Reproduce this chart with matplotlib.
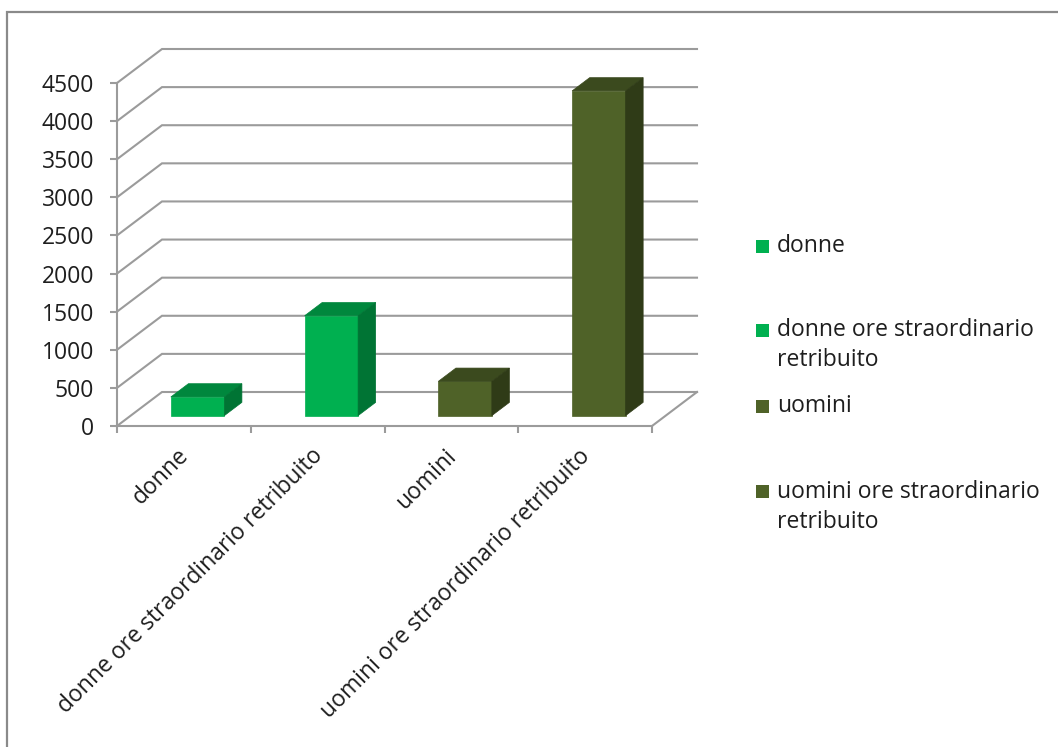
import matplotlib
matplotlib.use("Agg")
import matplotlib.pyplot as plt
from matplotlib.patches import Polygon, Rectangle
from matplotlib.transforms import ScaledTranslation

# ---- data ----
categories = ["donne", "donne ore straordinario retribuito", "uomini",
              "uomini ore straordinario retribuito"]
values = [245, 1310, 450, 4260]
legend_lines = [["donne"], ["donne ore straordinario", "retribuito"],
                ["uomini"], ["uomini ore straordinario", "retribuito"]]
yticks = [0, 500, 1000, 1500, 2000, 2500, 3000, 3500, 4000, 4500]

front_colors = ["#00B050", "#00B050", "#4F6228", "#4F6228"]
top_colors = ["#00873D", "#00873D", "#3B4A1E", "#3B4A1E"]
side_colors = ["#007434", "#007434", "#2F3B17", "#2F3B17"]

W, H = 1058, 747
plt.rcParams['font.family'] = ['Open Sans', 'DejaVu Sans']
FS = 16.5
TXT = "#1E1E1E"
GRID = "#9B9B9B"

fig = plt.figure(figsize=(W / 100, H / 100), dpi=100)
fig.patch.set_facecolor("white")

def fx(x):
    return x / W

def fy(y):
    return 1 - y / H

# axes = front plane of the 3D box
ax = fig.add_axes([fx(117), fy(426), 535 / W, 343 / H])
ax.set_xlim(0, 4)
ax.set_ylim(0, 4500)
ax.patch.set_alpha(0)

# depth offsets (data units)
DX = 45 / 133.75
DY = 34 * 4500 / 343
f0 = 0.305     # bar front plane depth fraction
dep = 0.39     # bar depth fraction
bw = 0.40      # bar width

# gridlines (wall)
for v in yticks:
    ax.plot([0, DX, 4 + DX], [v, v + DY, v + DY], color=GRID, lw=1.5,
            clip_on=False, zorder=1, solid_joinstyle='miter')
# floor right edge
ax.plot([4, 4 + DX], [0, DY], color=GRID, lw=1.5, clip_on=False, zorder=1)

# bars
for i, v in enumerate(values):
    c = i + 0.5
    x0 = c - bw / 2 + f0 * DX
    x1 = c + bw / 2 + f0 * DX
    y0 = f0 * DY
    y1 = y0 + v
    ddx, ddy = dep * DX, dep * DY
    front = Polygon([(x0, y0), (x1, y0), (x1, y1), (x0, y1)], closed=True,
                    facecolor=front_colors[i], edgecolor=front_colors[i],
                    lw=0.5, clip_on=False, zorder=3 + i)
    top = Polygon([(x0, y1), (x1, y1), (x1 + ddx, y1 + ddy), (x0 + ddx, y1 + ddy)],
                  closed=True, facecolor=top_colors[i], edgecolor=top_colors[i],
                  lw=0.5, clip_on=False, zorder=3 + i)
    side = Polygon([(x1, y0), (x1 + ddx, y0 + ddy), (x1 + ddx, y1 + ddy), (x1, y1)],
                   closed=True, facecolor=side_colors[i], edgecolor=side_colors[i],
                   lw=0.5, clip_on=False, zorder=3 + i)
    for p in (front, top, side):
        ax.add_patch(p)

# spines
for s in ("top", "right"):
    ax.spines[s].set_visible(False)
for s in ("left", "bottom"):
    ax.spines[s].set_color(GRID)
    ax.spines[s].set_linewidth(1.5)
    ax.spines[s].set_zorder(2)

# y ticks
ax.set_yticks(yticks)
ax.set_yticklabels([str(t) for t in yticks], fontsize=FS, color=TXT)
ax.tick_params(axis="y", direction="out", length=5, width=1.5, color=GRID, pad=11.5)

# x ticks: boundaries (major) and labels (minor)
ax.set_xticks([0, 1, 2, 3, 4])
ax.set_xticklabels([])
ax.tick_params(axis="x", which="major", direction="out", length=5, width=1.5, color=GRID)
ax.set_xticks([i + 0.5 for i in range(len(categories))], minor=True)
ax.set_xticklabels(categories, minor=True, rotation=45, ha="right", va="top",
                   fontsize=FS, color=TXT)
ax.tick_params(axis="x", which="minor", length=0, pad=13)
off = ScaledTranslation(10 / 100, 0, fig.dpi_scale_trans)
for lbl in ax.get_xticklabels(minor=True):
    lbl.set_transform(lbl.get_transform() + off)

# legend (manual, Excel-like layout)
entry_y = [246.5, 330, 406.5, 491.5]
line_gap = 30
for i, lines in enumerate(legend_lines):
    y = entry_y[i]
    fig.patches.append(Rectangle((fx(756), fy(y + 6.5)), 13 / W, 13 / H,
                                 transform=fig.transFigure,
                                 facecolor=front_colors[i], edgecolor="none"))
    for k, ln in enumerate(lines):
        fig.text(fx(777), fy(y + k * line_gap), ln, fontsize=FS, color=TXT,
                 ha="left", va="center")

# outer chart border
fig.patches.append(Rectangle((fx(7), fy(770)), (1080 - 7) / W, (770 - 12) / H,
                             transform=fig.transFigure, facecolor="none",
                             edgecolor="#8A8A8A", lw=1.6))

fig.savefig("out.png", dpi=100, facecolor="white")
